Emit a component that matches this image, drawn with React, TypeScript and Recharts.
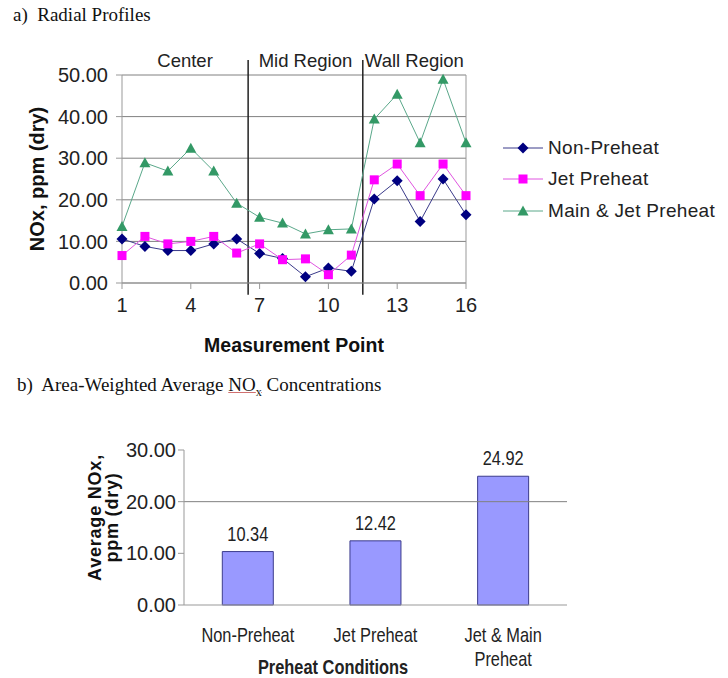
import {
  Bar,
  BarChart,
  CartesianGrid,
  LabelList,
  Line,
  LineChart,
  ReferenceArea,
  ReferenceLine,
  XAxis,
  YAxis,
} from "recharts";

// a) radial profiles
const points = [1, 2, 3, 4, 5, 6, 7, 8, 9, 10, 11, 12, 13, 14, 15, 16];
const nonPreheat = [10.6, 8.8, 7.8, 7.8, 9.4, 10.6, 7.1, 5.9, 1.5, 3.6, 2.8, 20.2, 24.6, 14.8, 25.0, 16.4];
const jetPreheat = [6.6, 11.2, 9.4, 10.0, 11.2, 7.2, 9.4, 5.6, 5.8, 2.0, 6.7, 24.8, 28.6, 21.0, 28.6, 21.0];
const mainJetPreheat = [13.6, 28.9, 26.9, 32.4, 26.9, 19.2, 15.8, 14.4, 11.8, 12.8, 13.0, 39.4, 45.4, 33.7, 49.0, 33.7];
const xTicks = [1, 4, 7, 10, 13, 16];
const yTicksTop = [0, 10, 20, 30, 40, 50];
const regionNames = ["Center", "Mid Region", "Wall Region"];
const regionEdges = [1, 6.5, 11.5, 16];

// b) area-weighted averages
const conditions = ["Non-Preheat", "Jet Preheat", "Jet & Main\nPreheat"];
const averages = [10.34, 12.42, 24.92];
const yTicksBottom = [0, 10, 20, 30];

const SANS = "'Liberation Sans', Arial, sans-serif";
const SERIF = "'Liberation Serif', 'Times New Roman', serif";

const NAVY = "#000080";
const MAGENTA = "#ff00ff";
const GREEN = "#339966";

const profileData = points.map((p, i) => ({
  point: p,
  nonPreheat: nonPreheat[i],
  jetPreheat: jetPreheat[i],
  mainJetPreheat: mainJetPreheat[i],
}));

const barData = conditions.map((c, i) => ({ name: c, value: averages[i] }));

function diamond(cx: number, cy: number, fill: string, key?: any) {
  return <polygon key={key} points={`${cx},${cy - 5.5} ${cx + 5.5},${cy} ${cx},${cy + 5.5} ${cx - 5.5},${cy}`} fill={fill} />;
}
function square(cx: number, cy: number, fill: string, key?: any) {
  return <rect key={key} x={cx - 4.5} y={cy - 4.5} width={9} height={9} fill={fill} />;
}
function triangle(cx: number, cy: number, fill: string, key?: any) {
  return <polygon key={key} points={`${cx},${cy - 5.5} ${cx + 5.5},${cy + 4.5} ${cx - 5.5},${cy + 4.5}`} fill={fill} />;
}

const series = [
  { key: "nonPreheat", name: "Non-Preheat", color: NAVY, line: "#3a3a8a", marker: diamond },
  { key: "jetPreheat", name: "Jet Preheat", color: MAGENTA, line: "#e055e0", marker: square },
  { key: "mainJetPreheat", name: "Main & Jet Preheat", color: GREEN, line: "#5aa88a", marker: triangle },
];

// the bottom chart uses a condensed face; squeeze Liberation Sans horizontally
function Narrow({ x, y, lines, bold, size = 20, gap = 24 }: any) {
  return (
    <g transform={`translate(${x} ${y}) scale(0.82 1)`}>
      <text x={0} y={0} textAnchor="middle" fill="#222" fontSize={size} fontFamily={SANS} fontWeight={bold ? "bold" : "normal"}>
        {lines.map((l: string, i: number) => (
          <tspan key={i} x={0} dy={i === 0 ? 0 : gap}>
            {l}
          </tspan>
        ))}
      </text>
    </g>
  );
}

function BottomTick({ x, y, payload }: any) {
  return <Narrow x={x} y={y + 35} lines={String(payload.value).split("\n")} />;
}

function Legend() {
  return (
    <div style={{ position: "absolute", left: 503, top: 132, fontFamily: SANS, fontSize: 19, color: "#222" }}>
      {series.map((s) => (
        <div key={s.key} style={{ display: "flex", alignItems: "center", height: 31.5 }}>
          <svg width={40} height={14} style={{ marginRight: 5 }}>
            <line x1={0} y1={7} x2={40} y2={7} stroke={s.line} strokeWidth={1} />
            {s.marker(20, 7, s.color)}
          </svg>
          <span style={{ letterSpacing: 0.3 }}>{s.name}</span>
        </div>
      ))}
    </div>
  );
}

export default function App() {
  return (
    <div style={{ position: "absolute", left: 0, top: 0, width: 728, height: 678, background: "#fff", overflow: "hidden" }}>
      <div style={{ position: "absolute", left: 13, top: 5, fontFamily: SERIF, fontSize: 19, lineHeight: "19px", color: "#111", whiteSpace: "pre" }}>
        {"a)  Radial Profiles"}
      </div>

      <div style={{ position: "absolute", left: 0, top: 0 }}>
        <LineChart width={728} height={360} data={profileData} margin={{ top: 75, right: 262, bottom: 17, left: 0 }}>
          <CartesianGrid vertical={false} stroke="#808080" />
          <XAxis
            dataKey="point"
            type="number"
            domain={[1, 16]}
            ticks={xTicks}
            interval={0}
            height={60}
            tickSize={6}
            tickMargin={9}
            stroke="#999"
            tick={{ fill: "#222", fontSize: 20, fontFamily: SANS }}
            label={{
              content: ({ viewBox }: any) => (
                <text x={viewBox.x + viewBox.width / 2} y={viewBox.y + 69} textAnchor="middle" fontFamily={SANS} fontWeight="bold" fontSize={19.5} fill="#111">
                  Measurement Point
                </text>
              ),
            }}
          />
          <YAxis
            type="number"
            domain={[0, 50]}
            ticks={yTicksTop}
            width={122}
            tickSize={6}
            tickMargin={8}
            stroke="#999"
            tickFormatter={(v: number) => v.toFixed(2)}
            tick={{ fill: "#222", fontSize: 20, fontFamily: SANS }}
            label={{
              content: ({ viewBox }: any) => {
                const cy = viewBox.y + viewBox.height / 2;
                return (
                  <text x={37} y={cy} transform={`rotate(-90 37 ${cy})`} textAnchor="middle" dominantBaseline="central" fontFamily={SANS} fontWeight="bold" fontSize={20} fill="#111">
                    NOx, ppm (dry)
                  </text>
                );
              },
            }}
          />
          <ReferenceLine x={16} stroke="#999" />
          {regionEdges.slice(1, -1).map((e) => (
            <ReferenceLine
              key={e}
              segment={[{ x: e, y: 53.6 }, { x: e, y: -2.8 }]}
              ifOverflow="visible"
              stroke="#222"
              strokeWidth={1.5}
            />
          ))}
          {regionNames.map((n, i) => (
            <ReferenceArea
              key={n}
              x1={regionEdges[i]}
              x2={regionEdges[i + 1]}
              y1={52}
              y2={55.2}
              ifOverflow="visible"
              fillOpacity={0}
              strokeOpacity={0}
              label={{ value: n, position: "center", fill: "#222", fontSize: 18.5, fontFamily: SANS }}
            />
          ))}
          {series.map((s) => (
            <Line
              key={s.key}
              dataKey={s.key}
              name={s.name}
              stroke={s.line}
              strokeWidth={1}
              isAnimationActive={false}
              dot={(p: any) => s.marker(p.cx, p.cy, s.color, p.index)}
              activeDot={false}
            />
          ))}
        </LineChart>
      </div>

      <Legend />

      <div style={{ position: "absolute", left: 17, top: 375, fontFamily: SERIF, fontSize: 19, lineHeight: "19px", color: "#111", whiteSpace: "pre" }}>
        {"b)  Area-Weighted Average "}
        <span style={{ textDecoration: "underline", textDecorationColor: "#d07070" }}>
          NO<sub style={{ fontSize: 12 }}>x</sub>
        </span>
        {" Concentrations"}
      </div>

      <div style={{ position: "absolute", left: 0, top: 400 }}>
        <BarChart width={728} height={278} data={barData} margin={{ top: 50, right: 161, bottom: 13, left: 0 }} barCategoryGap="30%">
          <XAxis xAxisId="edge" type="number" domain={[0, 3]} ticks={[0, 1, 2, 3]} tick={false} axisLine={false} tickSize={6} height={0} stroke="#999" />
          <XAxis
            dataKey="name"
            height={60}
            interval={0}
            tickLine={false}
            tickSize={0}
            stroke="#999"
            tick={<BottomTick />}
            label={{
              content: () => <Narrow x={333} y={274} lines={["Preheat Conditions"]} bold />,
            }}
          />
          <YAxis
            type="number"
            domain={[0, 30]}
            ticks={yTicksBottom}
            width={184}
            tickSize={6}
            tickMargin={2}
            stroke="#999"
            tickFormatter={(v: number) => v.toFixed(2)}
            tick={{ fill: "#222", fontSize: 20, fontFamily: SANS }}
            label={{
              content: ({ viewBox }: any) => {
                const cy = viewBox.y + viewBox.height / 2 - 10;
                return (
                  <text x={95} y={cy} transform={`rotate(-90 95 ${cy})`} textAnchor="middle" dominantBaseline="central" fontFamily={SANS} fontWeight="bold" fontSize={18} fill="#111" letterSpacing={0.8}>
                    <tspan x={95}>Average NOx,</tspan>
                    <tspan x={95} dy={17}>ppm (dry)</tspan>
                  </text>
                );
              },
            }}
          />
          <ReferenceLine y={20} stroke="#808080" />
          <ReferenceLine xAxisId="edge" x={3} stroke="#999" />
          <Bar dataKey="value" fill="#9999ff" stroke="#3c3c8c" strokeWidth={1} isAnimationActive={false}>
            <LabelList
              dataKey="value"
              content={({ x, y, width, value }: any) => (
                <Narrow x={x + width / 2} y={y - 11} lines={[Number(value).toFixed(2)]} />
              )}
            />
          </Bar>
        </BarChart>
      </div>
    </div>
  );
}
